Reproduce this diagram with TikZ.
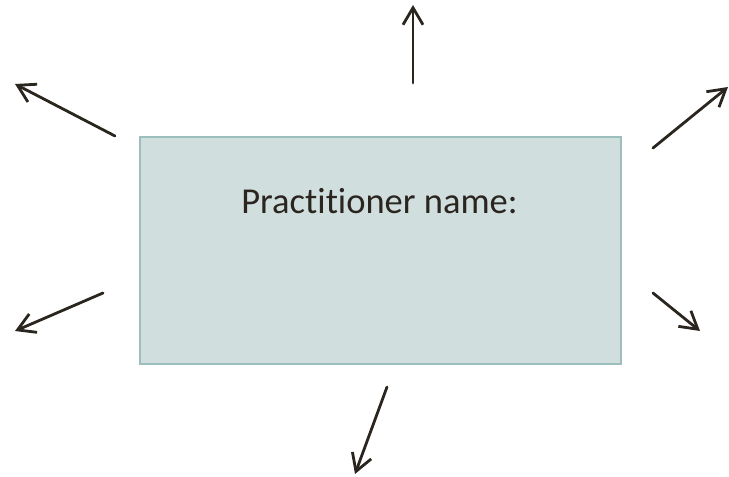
\documentclass[tikz,border=0pt]{standalone}
\usepackage{fontspec}
\setmainfont[Ligatures=NoCommon]{Carlito}
\usetikzlibrary{arrows.meta}
\definecolor{boxfill}{HTML}{D0DEDE}
\definecolor{boxline}{HTML}{9CBEBE}
\definecolor{ink}{HTML}{2A251F}
\begin{document}
\begin{tikzpicture}[x=1pt,y=-1pt,
  box/.style={draw=boxline,fill=boxfill,line width=2pt},
  ray/.style={draw=ink,line width=2.8pt,line cap=round,-{Straight Barb[length=17pt,width=20pt,line width=2.8pt]}},
  label/.style={text=ink,font=\fontsize{36.5}{40}\selectfont,anchor=base}]
\useasboundingbox (0,0) rectangle (729,477);
\node[box,minimum width=481pt,minimum height=227pt,anchor=north west,inner sep=0pt] (card) at (138.5,135.5) {};
\node[label] (title) at (379.5,213) {Practitioner name:};
\coordinate (t0) at (413,83);  \coordinate (t1) at (413,5);
\coordinate (tl0) at (115,136); \coordinate (tl1) at (15,84);
\coordinate (tr0) at (653,148); \coordinate (tr1) at (728,87);
\coordinate (l0) at (103,293);  \coordinate (l1) at (15,331);
\coordinate (r0) at (653,293);  \coordinate (r1) at (700,331);
\coordinate (b0) at (387,387);  \coordinate (b1) at (355,474);
\draw[ray] (t0) -- (t1);
\draw[ray] (tl0) -- (tl1);
\draw[ray] (tr0) -- (tr1);
\draw[ray] (l0) -- (l1);
\draw[ray] (r0) -- (r1);
\draw[ray] (b0) -- (b1);
\end{tikzpicture}
\end{document}
